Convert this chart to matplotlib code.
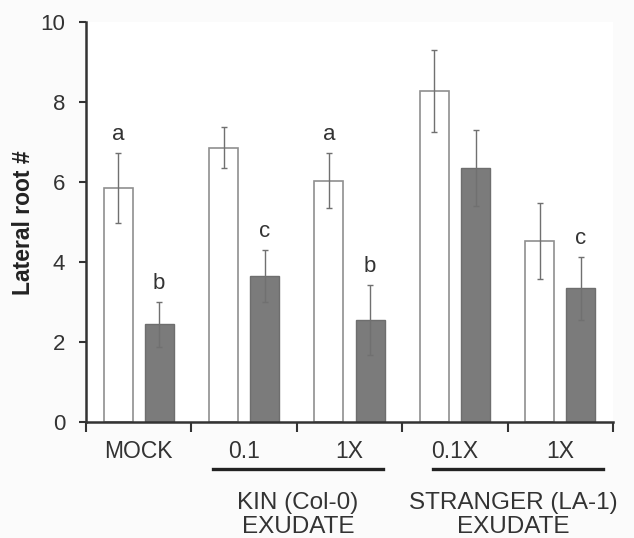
import matplotlib
matplotlib.use("Agg")
import matplotlib.pyplot as plt
import numpy as np

plt.rcParams['font.family'] = ['Liberation Sans', 'DejaVu Sans']

categories = ["MOCK", "0.1", "1X", "0.1X", "1X"]
white_vals = [5.85, 6.86, 6.03, 8.27, 4.52]
white_err = [0.87, 0.51, 0.69, 1.02, 0.95]
dark_vals = [2.44, 3.65, 2.55, 6.36, 3.34]
dark_err = [0.56, 0.65, 0.87, 0.95, 0.78]
white_letters = ["a", "", "a", "", ""]
dark_letters = ["b", "c", "b", "", "c"]
group_labels = ["KIN (Col-0)\nEXUDATE", "STRANGER (LA-1)\nEXUDATE"]
yticks = [0, 2, 4, 6, 8, 10]

fig = plt.figure(figsize=(6.34, 5.38), dpi=100)
fig.patch.set_facecolor("#fbfbfb")
ax = fig.add_axes([0.1356, 0.2156, 0.8314, 0.7434])
ax.set_facecolor("white")

x = np.arange(len(categories)) + 0.5
w = 0.275
off = 0.195
ekw = dict(ecolor="#707070", elinewidth=1.0, capsize=2.5, capthick=1.0)
ax.bar(x - off, white_vals, w, color="white", edgecolor="#8f8f8f", linewidth=1.2,
       yerr=white_err, error_kw=ekw, zorder=2)
ax.bar(x + off, dark_vals, w, color="#7b7b7b", edgecolor="#6e6e6e", linewidth=1.0,
       yerr=dark_err, error_kw=ekw, zorder=2)

for i in range(len(categories)):
    if white_letters[i]:
        ax.text(x[i] - off, white_vals[i] + white_err[i] + 0.2, white_letters[i],
                ha="center", va="bottom", fontsize=16, color="#333333")
    if dark_letters[i]:
        ax.text(x[i] + off, dark_vals[i] + dark_err[i] + 0.2, dark_letters[i],
                ha="center", va="bottom", fontsize=16, color="#333333")

ax.set_xlim(0, 5)
ax.set_ylim(0, 10)
ax.set_yticks(yticks)
ax.set_xticks(np.arange(0, 6))
ax.set_xticklabels([])
ax.set_xticks(x, minor=True)
ax.set_xticklabels(categories, minor=True, fontsize=16.5, color="#333333")
ax.tick_params(axis="x", which="minor", length=0, pad=13)
ax.tick_params(axis="x", which="major", length=7, width=1.5, color="#333333")
ax.tick_params(axis="y", length=5, width=1.5, color="#333333", labelsize=16,
               labelcolor="#333333", pad=10)
for s in ["top", "right"]:
    ax.spines[s].set_visible(False)
for s in ["left", "bottom"]:
    ax.spines[s].set_linewidth(1.8)
    ax.spines[s].set_color("#333333")

fig.text(23 / 634, 1 - 223 / 538, "Lateral root #", rotation=90, ha="center", va="center",
         fontsize=16.5, fontweight="bold", color="#222222")

# group underlines and labels
trans = ax.get_xaxis_transform()
for (a, b), cx, lab in zip([(1.205, 2.818), (3.29, 4.905)], [2.01, 4.05], group_labels):
    ax.plot([a, b], [-0.118, -0.118], transform=trans, color="#222222", lw=2.4, clip_on=False)
    ax.text(cx, -0.175, lab, transform=trans, ha="center", va="top",
            fontsize=17.5, color="#333333", linespacing=1.1)

fig.savefig("out.png", dpi=100, facecolor=fig.get_facecolor())
